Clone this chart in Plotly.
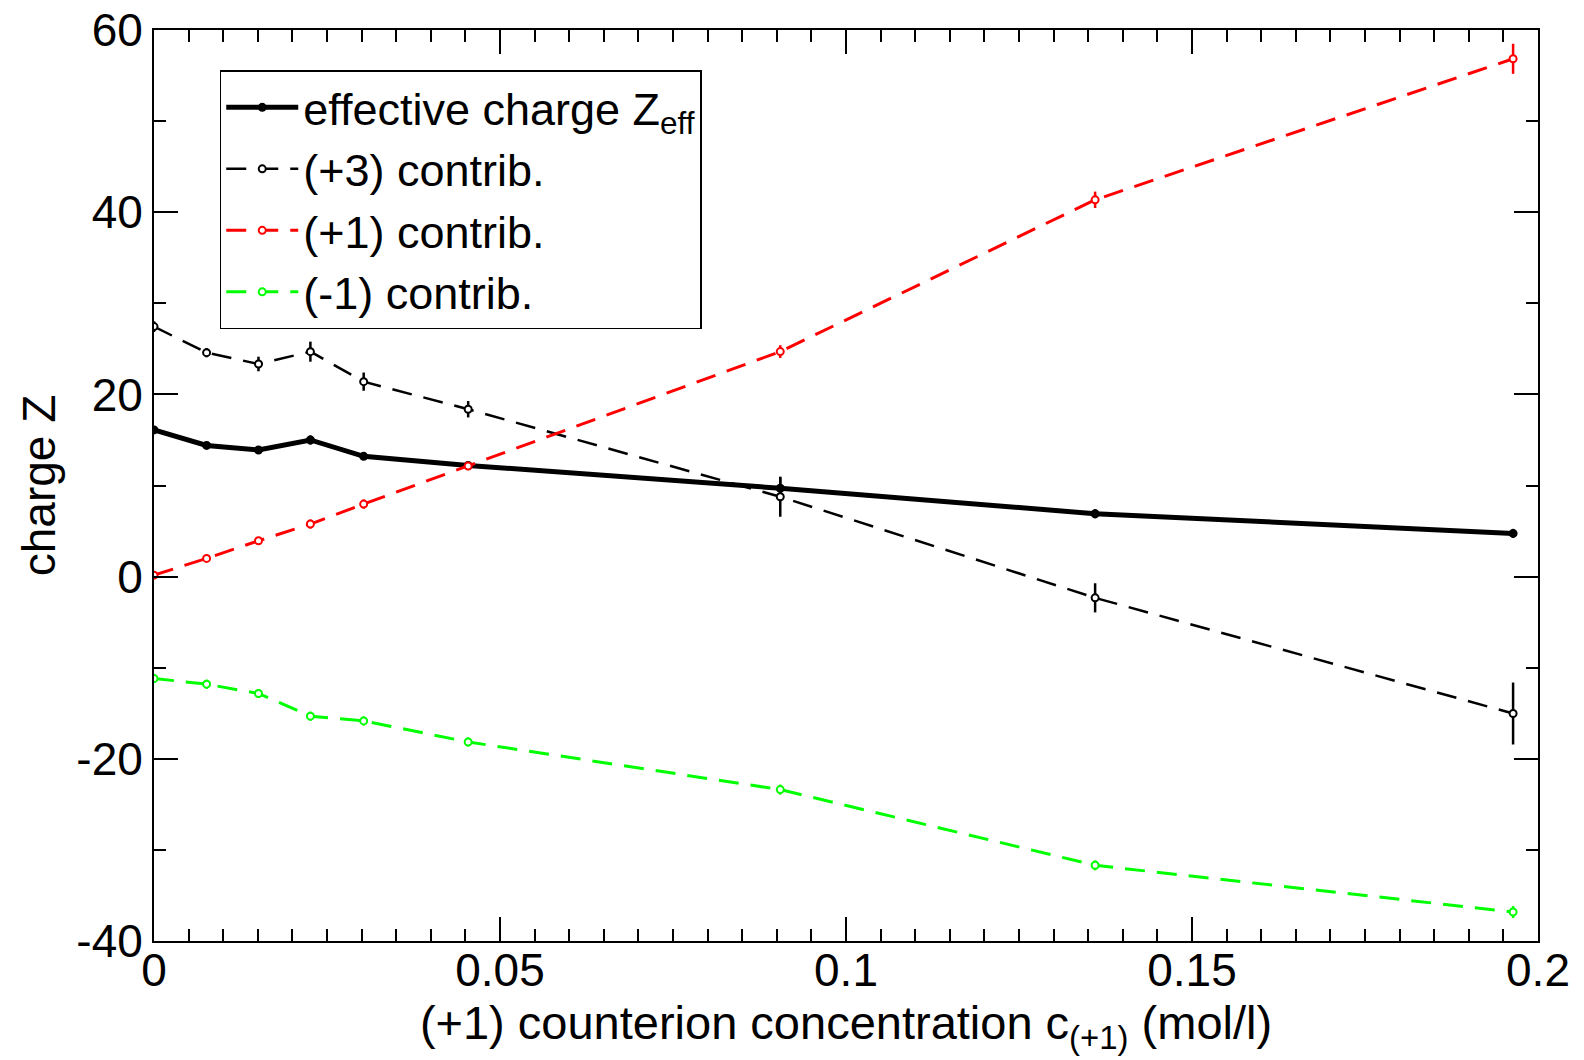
import plotly.graph_objects as go

# concentration of (+1) counterions (mol/l)
conc = [0.0, 0.0076, 0.0151, 0.0226, 0.0303, 0.0454, 0.0905, 0.136, 0.1964]

z_eff = [16.1, 14.4, 13.9, 15.0, 13.2, 12.2, 9.7, 6.9, 4.74]
z_eff_err = [0.3, 0.4, 0.4, 0.5, 0.4, 0.4, 1.2, 0.5, 0.5]

z_p3 = [27.44, 24.58, 23.34, 24.69, 21.40, 18.37, 8.77, -2.33, -15.03]
z_p3_err = [0.6, 0.5, 0.8, 1.1, 1.0, 0.9, 2.2, 1.6, 3.4]

z_p1 = [0.16, 2.0, 3.93, 5.77, 7.96, 12.14, 24.7, 41.36, 56.84]
z_p1_err = [0.3, 0.3, 0.4, 0.5, 0.5, 0.4, 0.7, 0.9, 1.65]

z_m1 = [-11.18, -11.81, -12.83, -15.32, -15.84, -18.15, -23.38, -31.69, -36.82]
z_m1_err = [0.5, 0.5, 0.5, 0.5, 0.5, 0.5, 0.55, 0.55, 0.65]

x_tickvals = [0, 0.05, 0.1, 0.15, 0.2]
x_ticktext = ["0", "0.05", "0.1", "0.15", "0.2"]
y_tickvals = [-40, -20, 0, 20, 40, 60]
y_ticktext = ["-40", "-20", "0", "20", "40", "60"]

FONT = "Liberation Sans, Arial, sans-serif"

fig = go.Figure()

def add_series(y, err, name, color, width, dash, fill, msize):
    fig.add_trace(go.Scatter(
        x=conc, y=y, name=name, mode="lines+markers",
        line=dict(color=color, width=width, dash=dash),
        marker=dict(symbol="circle", size=msize, color=fill,
                    line=dict(color=color, width=2)),
        error_y=dict(type="data", array=err, visible=True,
                     color=color, thickness=2.5, width=0),
    ))

add_series(z_eff, z_eff_err, "effective charge Z<sub>eff</sub>", "black", 5, "solid", "black", 7)
add_series(z_p3, z_p3_err, "(+3) contrib.", "black", 2.5, "20px,12px", "white", 7)
add_series(z_p1, z_p1_err, "(+1) contrib.", "#ff0000", 3, "20px,12px", "white", 7)
add_series(z_m1, z_m1_err, "(-1) contrib.", "#00ff00", 3, "20px,12px", "white", 7)

axis_common = dict(
    showline=True, linecolor="black", linewidth=2, mirror="ticks",
    ticks="inside", ticklen=24, tickwidth=2, tickcolor="black",
    showgrid=False, zeroline=False,
    tickfont=dict(family=FONT, size=46, color="black"),
)

fig.update_xaxes(
    range=[0, 0.2], tickmode="array", tickvals=x_tickvals, ticktext=x_ticktext,
    minor=dict(dtick=0.005, ticks="inside", ticklen=12, tickwidth=2, tickcolor="black", showgrid=False),
    title=dict(text="(+1) counterion concentration c<sub>(+1)</sub> (mol/l)",
               font=dict(family=FONT, size=47, color="black"), standoff=2),
    ticklabelstandoff=-12,
    **axis_common,
)
fig.update_yaxes(
    range=[-40, 60], tickmode="array", tickvals=y_tickvals, ticktext=y_ticktext,
    minor=dict(dtick=10, ticks="inside", ticklen=12, tickwidth=2, tickcolor="black", showgrid=False),
    title=dict(text="charge Z", font=dict(family=FONT, size=46, color="black"), standoff=6),
    ticklabelstandoff=0,
    **axis_common,
)

fig.update_layout(
    width=1584, height=1060,
    margin=dict(l=154, r=46, t=30, b=119, autoexpand=False),
    paper_bgcolor="white", plot_bgcolor="white",
    showlegend=True,
    legend=dict(
        x=0.0475, y=0.956, xanchor="left", yanchor="top",
        bgcolor="white", bordercolor="black", borderwidth=1.5,
        font=dict(family=FONT, size=45, color="black"),
        itemwidth=72, tracegroupgap=0,
    ),
)

fig.write_html("out.html")
